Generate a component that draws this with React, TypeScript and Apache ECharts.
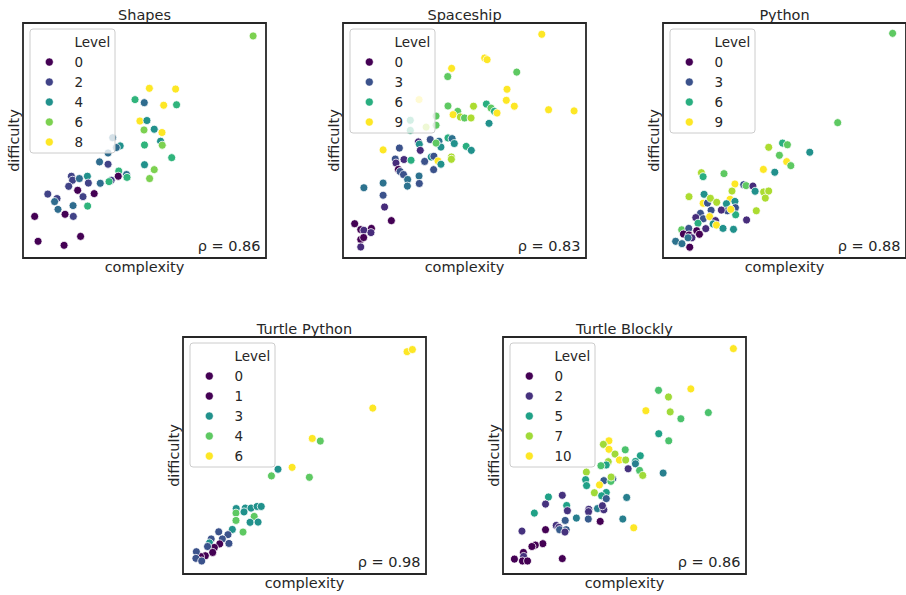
import React, { useEffect, useRef } from "react";
import * as echarts from "echarts";

// ---- data: [complexity, difficulty, level] (axis units 0..100 of each box) ----
const shapesPoints: number[][] = [
  [94.7, 94.5, 6], [52.0, 72.2, 8], [62.8, 71.9, 8], [46.1, 67.4, 5], [49.9, 66.1, 3],
  [57.9, 65.0, 8], [63.2, 65.2, 5], [48.1, 58.3, 8], [51.0, 58.5, 4], [49.8, 54.5, 6],
  [54.0, 54.8, 4], [57.2, 53.4, 8], [56.6, 49.7, 4], [57.3, 48.0, 6], [50.0, 48.1, 5],
  [61.2, 42.7, 5], [50.0, 39.7, 4], [54.0, 37.6, 6], [52.1, 33.8, 6], [36.9, 51.2, 3],
  [40.0, 47.7, 4], [38.4, 47.0, 3], [35.0, 44.7, 3], [31.5, 40.9, 3], [35.0, 39.9, 2],
  [39.4, 37.0, 5], [42.6, 35.5, 3], [42.8, 34.3, 5], [39.2, 34.8, 0], [36.3, 33.1, 2],
  [35.4, 32.5, 5], [31.8, 31.8, 3], [19.9, 34.8, 2], [20.4, 33.1, 2], [23.2, 33.8, 3],
  [26.5, 34.8, 4], [26.9, 31.9, 2], [18.8, 30.5, 2], [22.5, 28.8, 0], [29.3, 27.4, 0],
  [24.7, 26.1, 2], [10.2, 27.2, 2], [14.0, 25.3, 2], [13.0, 24.0, 3], [14.4, 20.7, 3],
  [20.6, 22.3, 3], [26.6, 22.1, 5], [17.3, 18.6, 0], [20.7, 17.7, 2], [4.8, 17.7, 0],
  [23.7, 9.2, 0], [6.2, 7.1, 0], [16.9, 5.4, 0],
];

const spaceshipPoints: number[][] = [
  [81.8, 95.2, 9], [58.3, 85.1, 9], [59.3, 84.4, 9], [44.7, 80.7, 9], [71.5, 79.1, 7],
  [43.1, 77.2, 7], [67.5, 71.8, 9], [31.3, 67.4, 9], [67.2, 67.1, 9], [70.5, 64.6, 9],
  [84.6, 63.1, 9], [95.1, 62.6, 9], [43.2, 64.7, 7], [53.7, 64.6, 8], [59.0, 65.5, 6],
  [60.9, 63.8, 7], [62.3, 62.4, 6], [63.4, 61.7, 9], [47.2, 62.4, 7], [45.3, 61.0, 9],
  [48.3, 60.0, 8], [50.0, 59.6, 7], [52.7, 59.6, 8], [38.3, 60.4, 7], [38.3, 56.5, 7],
  [34.2, 55.7, 8], [27.7, 58.6, 6], [27.7, 54.3, 6], [60.1, 57.3, 5], [31.0, 49.4, 2],
  [31.4, 48.4, 5], [35.9, 50.4, 3], [39.5, 49.7, 4], [40.3, 47.2, 5], [38.3, 48.9, 7],
  [43.2, 51.1, 6], [44.9, 50.8, 4], [45.8, 48.7, 5], [50.7, 47.5, 6], [52.8, 45.8, 5],
  [31.8, 45.8, 2], [23.2, 46.8, 3], [16.5, 46.0, 9], [21.5, 42.1, 3], [25.1, 41.9, 2],
  [28.0, 41.6, 6], [21.8, 40.4, 2], [22.8, 37.7, 0], [23.5, 36.8, 3], [24.9, 35.5, 3],
  [26.6, 33.4, 4], [26.5, 30.6, 4], [31.3, 34.9, 4], [31.4, 31.7, 3], [33.6, 41.1, 3],
  [36.3, 43.0, 5], [37.4, 43.3, 3], [39.1, 41.3, 9], [40.3, 39.9, 5], [37.3, 37.6, 3],
  [44.6, 43.0, 8], [44.6, 42.0, 8], [16.5, 31.9, 4], [16.5, 26.7, 3], [17.1, 21.7, 2],
  [8.6, 29.9, 4], [19.9, 15.9, 0], [4.8, 14.6, 0], [7.3, 12.1, 0], [8.6, 11.8, 2],
  [11.7, 12.6, 0], [11.5, 10.8, 2], [7.3, 7.9, 0], [8.5, 8.7, 1], [7.3, 4.7, 2],
];

const pythonPoints: number[][] = [
  [94.5, 95.6, 7], [71.9, 57.6, 7], [49.2, 48.9, 6], [51.2, 48.2, 7], [43.5, 47.1, 8],
  [60.4, 45.0, 5], [47.9, 43.7, 7], [50.9, 41.0, 9], [52.6, 39.3, 7], [41.3, 37.7, 9],
  [46.0, 36.5, 5], [15.8, 36.3, 8], [16.5, 34.6, 6], [25.1, 35.9, 7], [29.6, 31.5, 9],
  [33.2, 31.2, 3], [34.2, 30.8, 7], [37.0, 30.6, 2], [37.9, 28.4, 5], [41.4, 28.1, 8],
  [43.5, 28.5, 8], [42.1, 25.5, 8], [28.4, 28.5, 8], [27.6, 25.0, 9], [29.6, 24.1, 5],
  [16.9, 27.1, 5], [10.7, 26.1, 8], [16.5, 23.3, 9], [18.3, 23.4, 3], [19.5, 25.4, 8],
  [22.1, 23.7, 8], [26.1, 23.1, 5], [29.8, 21.4, 3], [29.9, 18.4, 6], [26.5, 20.1, 3],
  [24.0, 20.4, 2], [19.8, 20.3, 3], [27.9, 20.7, 9], [15.4, 19.0, 3], [38.4, 20.1, 8],
  [34.4, 16.2, 2], [13.5, 17.2, 2], [16.6, 16.7, 3], [19.2, 17.6, 9], [21.6, 15.9, 2],
  [20.6, 14.5, 5], [22.0, 14.0, 9], [24.7, 12.6, 5], [29.0, 12.2, 5], [17.6, 12.5, 2],
  [14.4, 14.8, 6], [7.7, 12.0, 7], [10.6, 12.6, 3], [8.4, 10.2, 0], [10.7, 9.8, 0],
  [13.9, 11.6, 0], [15.0, 10.1, 0], [11.9, 8.6, 2], [10.3, 8.6, 4], [5.2, 7.1, 4],
  [7.8, 6.1, 4], [11.0, 4.6, 0],
];

const turtlePythonPoints: number[][] = [
  [92.2, 93.8, 6], [94.4, 94.7, 6], [78.1, 70.0, 6], [53.2, 57.2, 6], [56.5, 56.1, 4],
  [44.9, 45.0, 6], [39.1, 44.2, 3], [36.4, 41.4, 4], [52.0, 40.8, 4], [21.9, 27.6, 3],
  [25.6, 27.8, 3], [28.0, 27.8, 3], [30.5, 28.5, 3], [32.2, 28.5, 3], [21.8, 25.7, 4],
  [25.1, 26.2, 3], [29.3, 24.3, 4], [21.8, 22.6, 4], [27.6, 21.8, 3], [30.9, 21.9, 3],
  [24.7, 17.7, 4], [20.3, 18.8, 3], [14.7, 17.8, 2], [18.5, 16.6, 2], [11.6, 14.8, 2],
  [16.2, 14.8, 2], [18.9, 12.9, 2], [15.1, 12.7, 1], [10.9, 13.1, 3], [12.9, 11.2, 0],
  [10.1, 11.6, 2], [12.2, 9.1, 0], [9.2, 7.7, 0], [7.2, 7.4, 0], [5.5, 9.4, 2],
  [5.3, 6.6, 2], [7.7, 5.5, 2],
];

const turtleBlocklyPoints: number[][] = [
  [94.8, 95.1, 10], [64.0, 77.5, 6], [77.3, 78.1, 10], [68.1, 74.7, 7], [58.8, 68.9, 10],
  [68.8, 68.4, 7], [73.2, 65.5, 6], [84.5, 68.1, 6], [64.1, 59.2, 5], [68.2, 56.2, 6],
  [43.6, 56.2, 10], [41.3, 54.7, 7], [43.6, 52.6, 10], [46.1, 50.6, 7], [50.3, 52.4, 6],
  [56.5, 49.9, 5], [47.9, 48.1, 10], [50.5, 48.1, 7], [54.5, 47.5, 5], [54.5, 46.5, 4],
  [43.3, 47.4, 7], [42.5, 46.0, 5], [40.3, 45.7, 6], [51.5, 44.4, 2], [56.2, 43.7, 6],
  [57.5, 41.6, 7], [65.9, 42.6, 4], [34.3, 43.0, 7], [34.0, 39.8, 5], [34.4, 37.3, 5],
  [41.5, 39.4, 3], [45.2, 40.2, 3], [44.4, 39.1, 6], [44.5, 40.9, 7], [39.7, 37.6, 10],
  [37.6, 34.3, 7], [42.5, 34.4, 5], [40.6, 33.0, 5], [42.5, 31.8, 3], [50.9, 32.3, 4],
  [18.7, 32.5, 5], [24.4, 33.2, 2], [26.2, 28.9, 5], [17.5, 29.5, 2], [26.5, 26.7, 2],
  [12.9, 25.7, 5], [35.3, 27.3, 2], [35.2, 26.3, 2], [38.9, 27.6, 4], [41.5, 27.1, 2],
  [40.9, 28.8, 2], [30.2, 23.6, 4], [35.1, 23.2, 3], [25.6, 22.6, 3], [40.0, 22.2, 0],
  [49.3, 23.2, 4], [53.8, 19.5, 10], [21.9, 20.5, 2], [23.0, 19.7, 2], [23.3, 18.7, 3],
  [26.0, 18.7, 3], [25.5, 17.7, 2], [17.5, 18.7, 0], [7.8, 18.1, 2], [16.4, 12.8, 0],
  [13.3, 12.2, 0], [11.9, 11.6, 0], [8.4, 9.1, 0], [8.5, 7.4, 2], [4.7, 6.3, 0],
  [8.0, 5.5, 0], [10.1, 5.5, 0], [24.4, 6.5, 0],
];

const panelTitles = ["Shapes", "Spaceship", "Python", "Turtle Python", "Turtle Blockly"];
const rhoValues = ["0.86", "0.83", "0.88", "0.98", "0.86"];
const legendLevels = [[0, 2, 4, 6, 8], [0, 3, 6, 9], [0, 3, 6, 9], [0, 1, 3, 4, 6], [0, 2, 5, 7, 10]];
const hueNorms = [[0.7, 7.3], [1, 9], [1, 9], [1, 5], [1, 8]];
const allPoints = [shapesPoints, spaceshipPoints, pythonPoints, turtlePythonPoints, turtleBlocklyPoints];

// ---- layout ----
const boxes = [
  { left: 23, top: 23, width: 243, height: 235 },
  { left: 343, top: 23, width: 243, height: 235 },
  { left: 663, top: 23, width: 243, height: 235 },
  { left: 183, top: 337, width: 243, height: 237 },
  { left: 503, top: 337, width: 243, height: 237 },
];

const VIRIDIS = [
  "#440154", "#471365", "#482475", "#463480", "#414487", "#3b528b", "#355f8d",
  "#2f6c8e", "#2a788e", "#25848e", "#21918c", "#1e9c89", "#22a884", "#2fb47c",
  "#44bf70", "#5ec962", "#7ad151", "#9bd93c", "#bddf26", "#dfe318", "#fde725",
];

function hexRgb(h: string) {
  return [parseInt(h.slice(1, 3), 16), parseInt(h.slice(3, 5), 16), parseInt(h.slice(5, 7), 16)];
}

function viridis(t: number) {
  const c = Math.max(0, Math.min(1, t)) * (VIRIDIS.length - 1);
  const i = Math.min(Math.floor(c), VIRIDIS.length - 2);
  const f = c - i;
  const a = hexRgb(VIRIDIS[i]);
  const b = hexRgb(VIRIDIS[i + 1]);
  const r = a.map((v, k) => Math.round(v + (b[k] - v) * f));
  return `rgb(${r[0]},${r[1]},${r[2]})`;
}

function levelColor(panel: number, level: number) {
  const [lo, hi] = hueNorms[panel];
  return viridis((level - lo) / (hi - lo));
}

const FONT = '"DejaVu Sans", sans-serif';
const TEXT = "#262626";

function textEl(x: number, y: number, text: string, size: number, align: string, extra: any = {}) {
  return {
    type: "text",
    x,
    y,
    z: 100,
    ...extra,
    style: {
      text,
      fill: TEXT,
      fontSize: size,
      fontFamily: FONT,
      align,
      textAlign: align,
      verticalAlign: "middle",
      textVerticalAlign: "middle",
    },
  };
}

export default function App() {
  const ref = useRef<HTMLDivElement>(null);

  useEffect(() => {
    if (!ref.current) return;
    const chart = echarts.init(ref.current, undefined, { renderer: "svg" });

    const grid = boxes.map((b) => ({
      left: b.left,
      top: b.top,
      width: b.width,
      height: b.height,
      show: true,
      borderColor: "#262626",
      borderWidth: 1.8,
      backgroundColor: "transparent",
    }));

    const axisCommon = {
      type: "value",
      min: 0,
      max: 100,
      axisLine: { show: false },
      axisTick: { show: false },
      axisLabel: { show: false },
      splitLine: { show: false },
    };

    const xAxis = boxes.map((_, i) => ({ ...axisCommon, gridIndex: i }));
    const yAxis = boxes.map((_, i) => ({ ...axisCommon, gridIndex: i }));

    const series = allPoints.map((pts, i) => ({
      type: "scatter",
      xAxisIndex: i,
      yAxisIndex: i,
      symbolSize: 8,
      z: 2,
      itemStyle: { borderColor: "#ffffff", borderWidth: 0.8, opacity: 1 },
      data: pts.map((p) => ({ value: [p[0], p[1]], itemStyle: { color: levelColor(i, p[2]) } })),
    }));

    const graphic: any[] = [];
    boxes.forEach((b, i) => {
      const cx = b.left + b.width / 2;
      graphic.push(textEl(cx, b.top - 8.5, panelTitles[i], 14.5, "center"));
      graphic.push(textEl(cx, b.top + b.height + 9, "complexity", 14.5, "center"));
      graphic.push(
        textEl(b.left - 9.5, b.top + b.height / 2, "difficulty", 14.5, "center", { rotation: Math.PI / 2 })
      );
      graphic.push(textEl(b.left + b.width - 5.5, b.top + b.height - 12, "ρ = " + rhoValues[i], 14.5, "right"));

      const levels = legendLevels[i];
      const lh = levels.length === 5 ? 124 : 104;
      graphic.push({
        type: "rect",
        z: 99,
        shape: { x: b.left + 7, y: b.top + 6, width: 85, height: lh, r: 3 },
        style: { fill: "rgba(255,255,255,0.8)", stroke: "#cccccc", lineWidth: 1 },
      });
      graphic.push(textEl(b.left + 51.5, b.top + 19, "Level", 13.5, "left"));
      levels.forEach((lv, k) => {
        const y = b.top + 39 + 20 * k;
        graphic.push({
          type: "circle",
          z: 100,
          shape: { cx: b.left + 26.3, cy: y, r: 4 },
          style: { fill: levelColor(i, lv), stroke: "#ffffff", lineWidth: 0.5 },
        });
        graphic.push(textEl(b.left + 51.5, y, String(lv), 13.5, "left"));
      });
    });

    chart.setOption({
      animation: false,
      backgroundColor: "#ffffff",
      grid,
      xAxis,
      yAxis,
      series,
      graphic,
    } as any);

    return () => chart.dispose();
  }, []);

  return (
    <div
      ref={ref}
      style={{ position: "absolute", left: 0, top: 0, width: 906, height: 595 }}
    />
  );
}
